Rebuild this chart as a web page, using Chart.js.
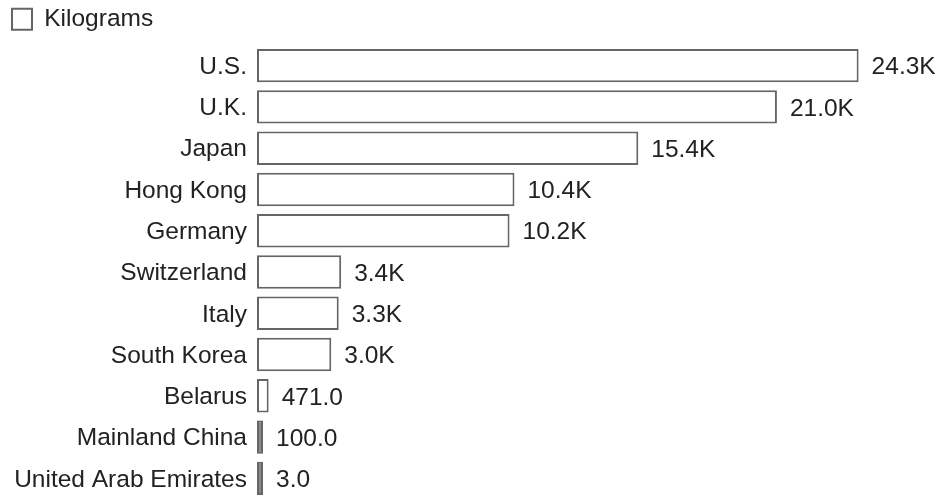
<!DOCTYPE html>
<html lang="en">
<head>
  <meta charset="UTF-8"/>
  <title>Kilograms by country</title>
  <script src="https://cdn.jsdelivr.net/npm/chart.js"></script>
  <style>
    html, body { margin: 0; padding: 0; background: #fff; overflow: hidden; }
    .wrap { width: 940px; height: 499px; position: relative; }
  </style>
</head>
<body>
  <div class="wrap"><canvas id="chart"></canvas></div>

  <script>
    const countries = ['U.S.', 'U.K.', 'Japan', 'Hong Kong', 'Germany', 'Switzerland', 'Italy', 'South Korea', 'Belarus', 'Mainland China', 'United Arab Emirates'];
    const kilograms = [24300, 21000, 15400, 10400, 10200, 3400, 3300, 3000, 471, 100, 3];
    const seriesName = 'Kilograms';

    const FONT = "'Liberation Sans', Arial, Helvetica, sans-serif";
    const INK = '#222';
    const EDGE = '#666';

    Chart.defaults.font.family = FONT;
    Chart.defaults.font.size = 24.5;
    Chart.defaults.color = INK;

    function fmt(v) {
      return v >= 1000 ? (v / 1000).toFixed(1) + 'K' : v.toFixed(1);
    }

    // value labels at the end of each bar
    const valueLabels = {
      id: 'valueLabels',
      afterDatasetsDraw(chart) {
        const ctx = chart.ctx;
        const meta = chart.getDatasetMeta(0);
        ctx.save();
        ctx.font = '24.5px ' + FONT;
        ctx.fillStyle = INK;
        ctx.textAlign = 'left';
        ctx.textBaseline = 'middle';
        meta.data.forEach((bar, i) => {
          ctx.fillText(fmt(kilograms[i]), bar.x + 13, bar.y + 2);
        });
        ctx.restore();
      }
    };

    new Chart(document.getElementById('chart'), {
      type: 'bar',
      data: {
        labels: countries,
        datasets: [{
          label: seriesName,
          data: kilograms,
          // the hairline bars read as solid grey in the original
          backgroundColor: c => (c.raw !== undefined && c.raw < 200) ? '#888' : '#fff',
          borderColor: EDGE,
          borderWidth: 2,
          borderSkipped: false,
          minBarLength: 6,
          barPercentage: 0.81,
          categoryPercentage: 1
        }]
      },
      options: {
        indexAxis: 'y',
        responsive: true,
        maintainAspectRatio: false,
        animation: false,
        layout: { padding: { left: 5, right: 43, top: 0, bottom: 0 } },
        plugins: {
          legend: {
            position: 'top',
            align: 'start',
            labels: { boxWidth: 20, boxHeight: 21, padding: 7, color: INK, font: { size: 24.5 } }
          },
          tooltip: { enabled: false }
        },
        scales: {
          x: {
            position: 'top',
            min: 0,
            max: 25850,
            ticks: { display: false },
            grid: { display: false, drawTicks: false },
            border: { display: false },
            afterFit(scale) { scale.height = 3.5; }
          },
          y: {
            ticks: { padding: 10, labelOffset: 1.5, autoSkip: false, color: INK, font: { size: 24.5 } },
            grid: { display: false, drawTicks: false },
            border: { display: false },
            afterFit(scale) {
              scale.width = 252;
              // labels sit inside the bands, no extra room needed above/below
              scale.paddingTop = 0;
              scale.paddingBottom = 0;
            }
          }
        }
      },
      plugins: [valueLabels]
    });
  </script>
</body>
</html>
